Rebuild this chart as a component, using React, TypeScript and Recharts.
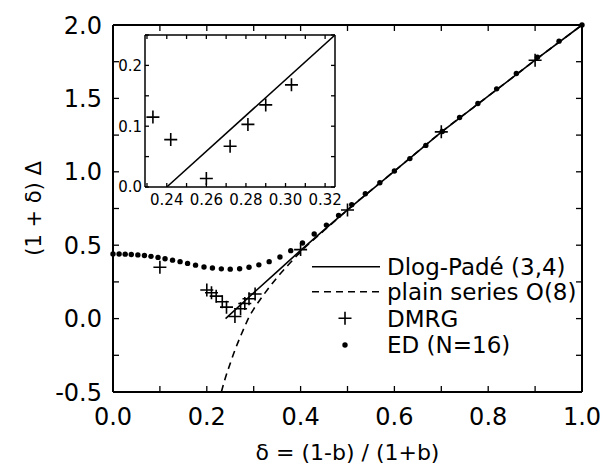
import { ComposedChart, Line, Scatter, XAxis, YAxis, Legend } from 'recharts';

const FONT = 'DejaVu Sans';

// ED (N=16) points
const edX = [0, 0.013, 0.026, 0.039, 0.053, 0.067, 0.081, 0.096, 0.111, 0.127, 0.143, 0.159, 0.176, 0.194, 0.212, 0.231, 0.25, 0.27, 0.29, 0.311, 0.333, 0.356, 0.379, 0.404, 0.429, 0.455, 0.481, 0.509, 0.538, 0.569, 0.6, 0.633, 0.667, 0.702, 0.739, 0.778, 0.818, 0.86, 0.905, 0.951, 1.0];
const edY = [0.44, 0.44, 0.439, 0.437, 0.434, 0.43, 0.424, 0.417, 0.408, 0.398, 0.388, 0.376, 0.364, 0.352, 0.345, 0.339, 0.337, 0.34, 0.35, 0.366, 0.388, 0.42, 0.463, 0.515, 0.576, 0.637, 0.703, 0.776, 0.85, 0.925, 1.005, 1.09, 1.18, 1.275, 1.37, 1.465, 1.565, 1.67, 1.78, 1.89, 2.0];

// DMRG points
const dmrgX = [0.1, 0.2, 0.21, 0.22, 0.233, 0.242, 0.26, 0.272, 0.281, 0.29, 0.303, 0.4, 0.5, 0.7, 0.9];
const dmrgY = [0.35, 0.195, 0.176, 0.153, 0.115, 0.078, 0.014, 0.067, 0.103, 0.135, 0.168, 0.47, 0.74, 1.272, 1.76];

// Dlog-Padé (3,4)
const padeX = [0.24, 0.3, 0.35, 0.4, 0.45, 0.5, 0.6, 0.7, 0.8, 0.9, 1.0];
const padeY = [0, 0.176, 0.32, 0.465, 0.605, 0.74, 1.005, 1.27, 1.515, 1.76, 2.0];

// plain series O(8)
const seriesX = [0.231, 0.24, 0.25, 0.26, 0.27, 0.28, 0.29, 0.3, 0.315, 0.33, 0.35, 0.375, 0.4, 0.45, 0.5, 0.6, 0.7, 0.8, 0.9, 1.0];
const seriesY = [-0.5, -0.4, -0.305, -0.215, -0.135, -0.06, 0.01, 0.065, 0.135, 0.2, 0.28, 0.37, 0.455, 0.6, 0.74, 1.005, 1.27, 1.515, 1.76, 2.0];

// inset
const insetPadeX = [0.24, 0.325];
const insetPadeY = [0, 0.25];

const xTicks = [0, 0.1, 0.2, 0.3, 0.4, 0.5, 0.6, 0.7, 0.8, 0.9, 1.0];
const xLabels = ['0.0', '0.2', '0.4', '0.6', '0.8', '1.0'];
const yTicks = [-0.5, -0.25, 0, 0.25, 0.5, 0.75, 1.0, 1.25, 1.5, 1.75, 2.0];
const yLabels = ['-0.5', '0.0', '0.5', '1.0', '1.5', '2.0'];
const insetXTicks = [0.23, 0.24, 0.25, 0.26, 0.27, 0.28, 0.29, 0.3, 0.31, 0.32];
const insetXLabels = ['0.24', '0.26', '0.28', '0.30', '0.32'];
const insetYTicks = [0, 0.05, 0.1, 0.15, 0.2, 0.25];
const insetYLabels = ['0.0', '0.1', '0.2'];

const legendNames = ['Dlog-Padé (3,4)', 'plain series O(8)', 'DMRG', 'ED (N=16)'];

const toPoints = (xs: number[], ys: number[]) => xs.map((x, i) => ({ x, y: ys[i] }));

const edData = toPoints(edX, edY);
const dmrgData = toPoints(dmrgX, dmrgY);
const padeData = toPoints(padeX, padeY);
const seriesData = toPoints(seriesX, seriesY);
const insetDmrg = dmrgData.filter((p) => p.x > 0.229 && p.x < 0.325);
const insetPade = toPoints(insetPadeX, insetPadeY);

const findLabel = (labels: string[], v: number) => labels.find((l) => Math.abs(parseFloat(l) - v) < 1e-6);

const Cross = (props: any) => {
  const { cx, cy } = props;
  return <path d={`M${cx - 6.5},${cy}h13M${cx},${cy - 6.5}v13`} stroke="#000" strokeWidth={1.6} fill="none" />;
};

const Dot = (props: any) => <circle cx={props.cx} cy={props.cy} r={2.7} fill="#000" />;

// inward tick marks, optional label
const bottomTick = (labels: string[], len: number, fs: number, gap: number) => (props: any) => {
  const { x, y, payload } = props;
  const s = findLabel(labels, payload.value);
  return (
    <g>
      <line x1={x} y1={y} x2={x} y2={y - len} stroke="#000" strokeWidth={1.3} />
      {s && (
        <text x={x} y={y + gap} textAnchor="middle" fontSize={fs} fontFamily={FONT} fill="#000">{s}</text>
      )}
    </g>
  );
};

const leftTick = (labels: string[], len: number, fs: number, gap: number) => (props: any) => {
  const { x, y, payload } = props;
  const s = findLabel(labels, payload.value);
  return (
    <g>
      <line x1={x} y1={y} x2={x + len} y2={y} stroke="#000" strokeWidth={1.3} />
      {s && (
        <text x={x - gap} y={y} dy="0.36em" textAnchor="end" fontSize={fs} fontFamily={FONT} fill="#000">{s}</text>
      )}
    </g>
  );
};

const topTick = (len: number) => (props: any) => (
  <line x1={props.x} y1={props.y} x2={props.x} y2={props.y + len} stroke="#000" strokeWidth={1.3} />
);

const rightTick = (len: number) => (props: any) => (
  <line x1={props.x} y1={props.y} x2={props.x - len} y2={props.y} stroke="#000" strokeWidth={1.3} />
);

const LegendBox = () => {
  const rows = [12.7, 37.7, 64.3, 91];
  return (
    <svg width={275} height={110}>
      <line x1={7} y1={rows[0]} x2={75} y2={rows[0]} stroke="#000" strokeWidth={1.5} />
      <line x1={7} y1={rows[1]} x2={75} y2={rows[1]} stroke="#000" strokeWidth={1.5} strokeDasharray="7 5" />
      <path d={`M${33.5},${rows[2]}h13M${40},${rows[2] - 6.5}v13`} stroke="#000" strokeWidth={1.6} />
      <circle cx={40} cy={rows[3]} r={2.7} fill="#000" />
      {legendNames.map((n, i) => (
        <text key={n} x={82} y={rows[i]} dy="0.36em" fontSize={23} fontFamily={FONT} fill="#000">{n}</text>
      ))}
    </svg>
  );
};

export default function App() {
  return (
    <div style={{ position: 'relative', width: 600, height: 456 }}>
      <ComposedChart width={600} height={456} margin={{ top: 16, right: 25, bottom: 0, left: 0 }}>
        <XAxis
          dataKey="x"
          type="number"
          domain={[0, 1]}
          ticks={xTicks}
          height={72}
          tickSize={0}
          tickMargin={0}
          tickLine={false}
          axisLine={{ stroke: '#000', strokeWidth: 2 }}
          tick={bottomTick(xLabels, 6, 24, 33)}
          interval={0}
          label={{ value: 'δ = (1-b) / (1+b)', position: 'insideBottom', offset: 4, fontSize: 22, fill: '#000', fontFamily: FONT }}
        />
        <XAxis
          xAxisId="top"
          dataKey="x"
          orientation="top"
          type="number"
          domain={[0, 1]}
          ticks={xTicks}
          height={1}
          tickSize={0}
          tickMargin={0}
          tickLine={false}
          axisLine={{ stroke: '#000', strokeWidth: 2 }}
          tick={topTick(6)}
          interval={0}
        />
        <YAxis
          dataKey="y"
          type="number"
          domain={[-0.5, 2]}
          ticks={yTicks}
          width={105}
          tickSize={0}
          tickMargin={0}
          tickLine={false}
          axisLine={{ stroke: '#000', strokeWidth: 2 }}
          tick={leftTick(yLabels, 6, 24, 11)}
          interval={0}
          label={{ value: '(1 + δ) Δ', angle: -90, position: 'center', dx: -27, fontSize: 21, fill: '#000', fontFamily: FONT }}
        />
        <YAxis
          yAxisId="right"
          dataKey="y"
          orientation="right"
          type="number"
          domain={[-0.5, 2]}
          ticks={yTicks}
          width={1}
          tickSize={0}
          tickMargin={0}
          tickLine={false}
          axisLine={{ stroke: '#000', strokeWidth: 2 }}
          tick={rightTick(6)}
          interval={0}
        />
        <Line data={padeData} xAxisId="top" yAxisId="right" dataKey="y" stroke="none" dot={false} isAnimationActive={false} legendType="none" />
        <Line data={seriesData} dataKey="y" type="monotone" stroke="#000" strokeWidth={1.6} strokeDasharray="7 5" dot={false} isAnimationActive={false} />
        <Line data={padeData} dataKey="y" type="linear" stroke="#000" strokeWidth={1.6} dot={false} isAnimationActive={false} />
        <Scatter data={edData} dataKey="y" shape={Dot} isAnimationActive={false} />
        <Scatter data={dmrgData} dataKey="y" shape={Cross} isAnimationActive={false} />
        <Legend
          layout="vertical"
          align="center"
          verticalAlign="middle"
          content={() => <LegendBox />}
          wrapperStyle={{ left: 297, top: 246, width: 275, height: 110 }}
        />
      </ComposedChart>

      <div style={{ position: 'absolute', left: 92, top: 17 }}>
        <ComposedChart width={245} height={185} margin={{ top: 9, right: 9, bottom: 0, left: 0 }}>
          <XAxis
            dataKey="x"
            type="number"
            domain={[0.229, 0.325]}
            ticks={insetXTicks}
            height={23}
            tickSize={0}
            tickMargin={0}
            tickLine={false}
            axisLine={{ stroke: '#000', strokeWidth: 1.5 }}
            tick={bottomTick(insetXLabels, 4, 15, 18)}
            interval={0}
            allowDataOverflow
          />
          <XAxis
            xAxisId="top"
            dataKey="x"
            orientation="top"
            type="number"
            domain={[0.229, 0.325]}
            ticks={insetXTicks}
            height={1}
            tickSize={0}
            tickMargin={0}
            tickLine={false}
            axisLine={{ stroke: '#000', strokeWidth: 1.5 }}
            tick={topTick(4)}
            interval={0}
            allowDataOverflow
          />
          <YAxis
            dataKey="y"
            type="number"
            domain={[0, 0.25]}
            ticks={insetYTicks}
            width={45}
            tickSize={0}
            tickMargin={0}
            tickLine={false}
            axisLine={{ stroke: '#000', strokeWidth: 1.5 }}
            tick={leftTick(insetYLabels, 4, 15, 3)}
            interval={0}
            allowDataOverflow
          />
          <YAxis
            yAxisId="right"
            dataKey="y"
            orientation="right"
            type="number"
            domain={[0, 0.25]}
            ticks={insetYTicks}
            width={1}
            tickSize={0}
            tickMargin={0}
            tickLine={false}
            axisLine={{ stroke: '#000', strokeWidth: 1.5 }}
            tick={rightTick(4)}
            interval={0}
            allowDataOverflow
          />
          <Line data={insetPade} xAxisId="top" yAxisId="right" dataKey="y" stroke="none" dot={false} isAnimationActive={false} />
          <Line data={insetPade} dataKey="y" type="linear" stroke="#000" strokeWidth={1.5} dot={false} isAnimationActive={false} />
          <Scatter data={insetDmrg} dataKey="y" shape={Cross} isAnimationActive={false} />
        </ComposedChart>
      </div>
    </div>
  );
}
